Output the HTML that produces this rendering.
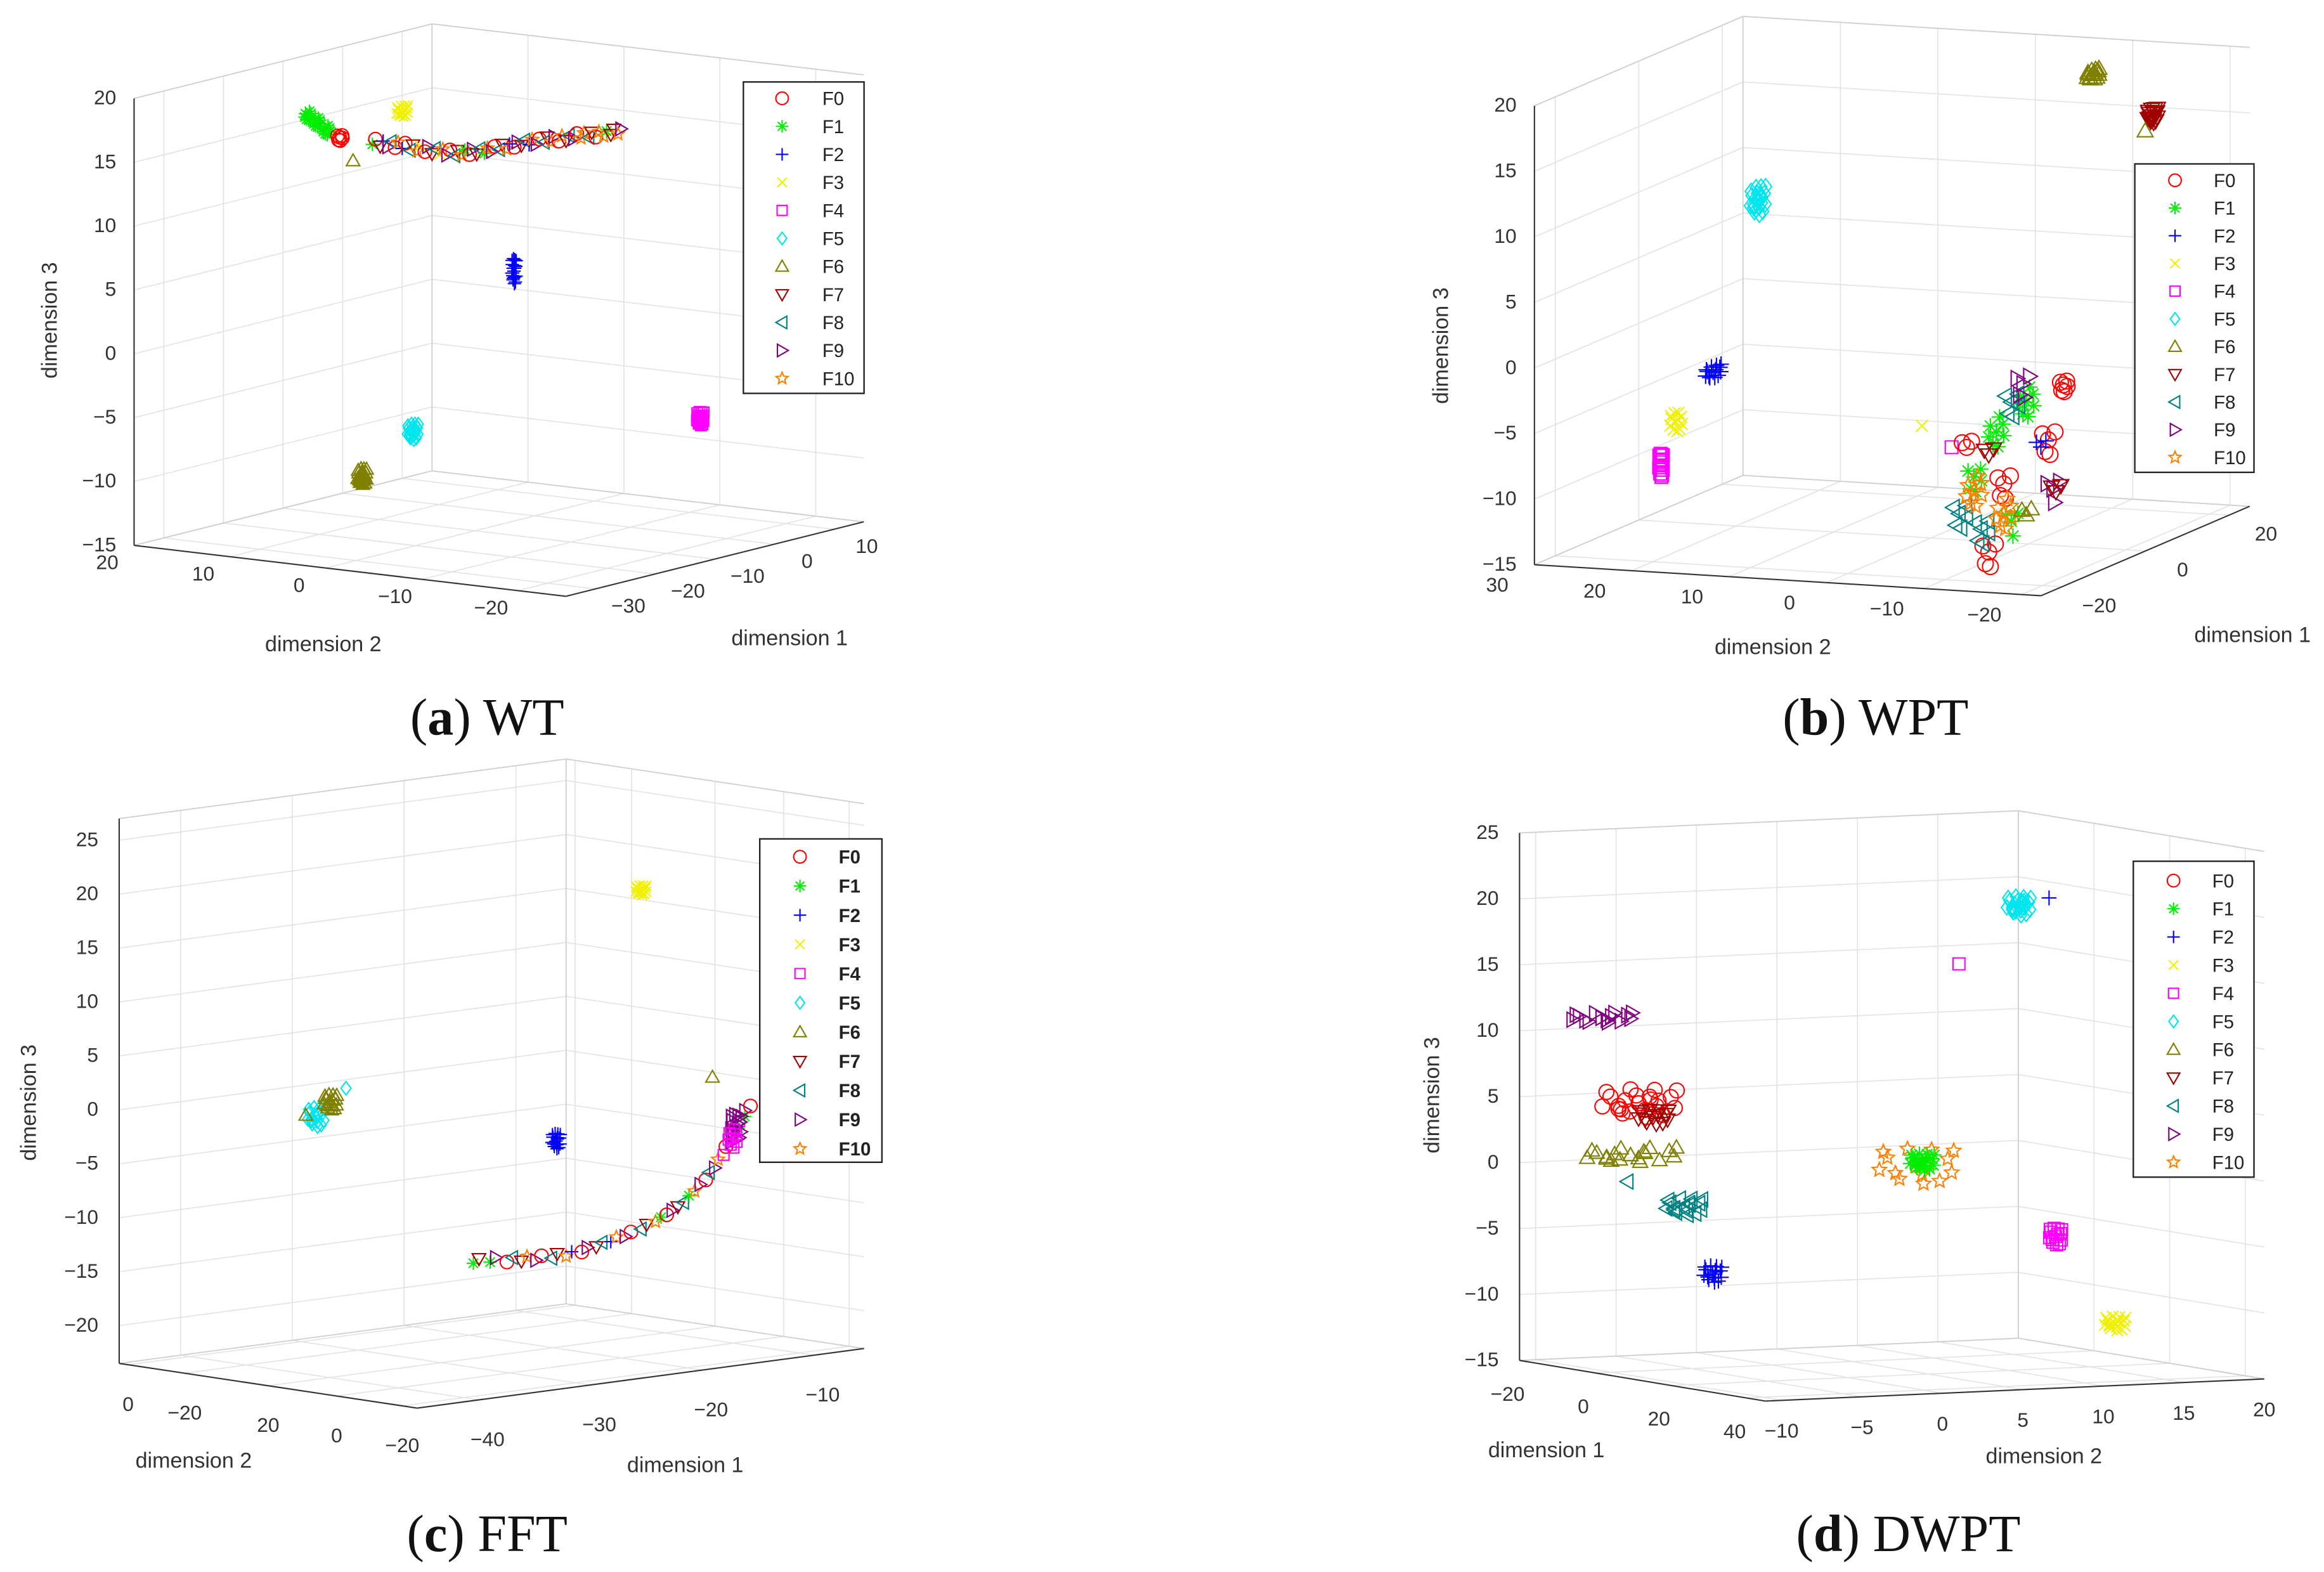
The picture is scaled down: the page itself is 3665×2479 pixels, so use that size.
<!DOCTYPE html>
<html><head><meta charset="utf-8">
<style>
html,body{margin:0;padding:0;background:#fff;}
svg{display:block;}
.sans{font-family:"Liberation Sans",sans-serif;}
.cap{font-family:"Liberation Serif",serif;}
</style></head>
<body>
<svg id="fig" xmlns="http://www.w3.org/2000/svg" width="3665" height="2479" viewBox="0 0 1560 1055" preserveAspectRatio="none" class="sans">
<rect x="0" y="0" width="1560" height="1055" fill="#fff"/>
<g><text class="cap" x="327" y="493" text-anchor="middle" font-size="35" fill="#111">(<tspan font-weight="bold">a</tspan>) WT</text></g>
<g><text class="cap" x="1259" y="493" text-anchor="middle" font-size="35" fill="#111">(<tspan font-weight="bold">b</tspan>) WPT</text></g>
<g><text class="cap" x="327" y="1041" text-anchor="middle" font-size="35" fill="#111">(<tspan font-weight="bold">c</tspan>) FFT</text></g>
<g><text class="cap" x="1281" y="1041" text-anchor="middle" font-size="35" fill="#111">(<tspan font-weight="bold">d</tspan>) DWPT</text></g>
</svg>
<script>
// ---- data (classes) ----
const classNames = ['F0','F1','F2','F3','F4','F5','F6','F7','F8','F9','F10'];
const classColors = ['#ff0000','#00ee00','#0000ff','#f0f000','#ff00ff','#00e5ee','#808000','#a00000','#008080','#800080','#ff8000'];
const classShapes = ['o','*','+','x','s','d','^','v','<','>','p'];
// spread pattern for clusters (unit offsets)
const spreadPattern = [[0,0],[0.8,0.3],[-0.7,0.5],[0.2,-0.9],[-0.4,-0.6],[0.9,-0.4],[-0.9,-0.1],[0.4,0.8],[-0.2,0.9],[0.6,-0.8],[-0.8,0.8],[0.3,0.2],[-0.5,-0.3],[0.95,0.7]];

// ---- panel (a) WT ----
// blobs: [class, d1, d2, d3, spread1, spread2, spread3, count]
const aBlobs = [
[1,-21.9,10,18.0,0.6,0,0.4,8],[1,-20.4,10,17.3,0.6,0,0.4,8],[1,-18.8,10,16.5,0.6,0,0.4,8],
[0,-16.6,10,15.7,0.5,0,0.3,6],[3,-6.1,10,16.5,1,0,0.5,16],[6,-14.35,10,13.6,0,0,0,1],
[2,12.65,10,1.8,0.4,0,1.1,20],[5,-4.35,10,-8.8,1.0,0,0.7,24],[6,-12.85,10,-11.3,0.8,0,0.7,24],[4,43.9,10,-13.4,0.6,0,0.6,20]];
const aBandD1 = [-11.1,-9.8,-8.5,-7.3,-6.1,-4.8,-3.6,-2.3,-1.1,0.2,1.4,2.7,3.9,5.2,6.4,7.7,8.9,10.2,11.4,12.7,13.9,15.2,16.4,17.7,18.9,20.2,21.4,22.7,23.9,25.2,26.4,27.7,28.9,30.1];
const aBandD3 = [14.5,14.2,14.0,13.8,13.6,13.3,13.1,12.9,12.6,12.4,12.2,12.0,11.9,11.8,11.7,11.6,11.6,11.6,11.5,11.5,11.5,11.4,11.3,11.3,11.2,11.1,11.0,11.0,10.9,10.8,10.7,10.6,10.6,10.5];
const aBandCls = [1,7,9,0,2,8,10,0,7,3,9,8,10,0,7,1,9,8,10,0,7,2,9,8,10,0,7,9,10,8,0,10,7,10];

// ---- panel (b) WPT ----
const bBlobs = [
[6,3.8,-15,20.5,1.5,0,0.4,14],[7,18.1,-15,15.4,1.2,0,0.6,18],[6,16.3,-15,14.5,0,0,0,1],
[5,-6.5,15,10.9,2.0,0,1.2,24],[2,-17.2,15,-0.7,2,0,0.5,14],[3,-26.1,15,-3.3,1.5,0,0.8,12],[4,-29.7,15,-6.1,0.5,0,1,14],
[3,-37.2,-15,-0.7,0,0,0,1],[4,-30.1,-15,-3.3,0,0,0,1],
[0,-3.3,-15,-2.2,1.0,0,0.6,6],[0,-6.9,-15,-5.9,2,0,1.3,5],[0,-17.6,-15,-7.8,2,0,1.3,5],[0,-21.2,-15,-12.5,2,0,1.3,5],[0,-26.5,-15,-3.8,1.5,0,1,3],
[1,-12.2,-15,-2.3,2,0,1.3,8],[1,-19.4,-15,-3.6,2,0,1.3,8],[1,-24.75,-15,-6.3,2,0,1.3,6],[1,-15.8,-15,-10.9,2,0,1.3,4],
[8,-15.8,-15,-1.8,2,0,1.3,6],[8,-28.3,-15,-8.6,2,0,1.3,6],[8,-23,-15,-10.5,2,0,1.3,6],
[9,-13,-15,-0.8,2,0,1.2,5],[9,-5.8,-15,-9.8,2,0,1.2,4],[10,-24.75,-15,-7.4,2,0,1.3,8],[10,-17.6,-15,-10.1,2,0,1.3,8],
[7,-5.1,-15,-10.1,1.5,0,1,3],[7,-21.2,-15,-5.1,1.5,0,1,3],[6,-12.2,-15,-10.9,1.5,0,1,3],[2,-8.7,-15,-6.2,1.5,0,1,3]];

// ---- panel (c) FFT ----
const cBlobs = [
[5,-43.9,0,1.6,0.8,0,1.0,18],[6,-42.6,0,2.8,0.6,0,0.8,16],[5,-41.2,0,3.9,0,0,0,1],[6,-44.8,0,1.9,0,0,0,1],
[3,-14.8,0,18.6,0.5,0,0.5,16],[2,-22.4,0,-3.6,0.4,0,0.8,18],[6,-8.4,0,0.4,0,0,0,1],[9,-6.3,0,-4.5,0.5,0,1.3,14],[4,-6.6,0,-5.5,0.4,0,1.0,8]];
const cCurveD1 = [-29.8,-28.3,-26.8,-25.5,-24.2,-22.8,-21.5,-20.1,-18.8,-17.5,-16.2,-14.8,-13.5,-12.5,-11.5,-10.5,-9.5,-8.7,-7.9,-7.2,-6.6,-6.0,-5.5];
const cCurveD3 = [-13.9,-14.0,-14.2,-14.3,-14.4,-14.4,-14.4,-14.2,-13.9,-13.6,-13.3,-12.8,-12.3,-11.8,-11.2,-10.3,-9.4,-8.4,-7.3,-6.2,-5.0,-4.0,-3.1];
const cCurveCls = [1,1,0,7,9,8,10,0,7,2,9,8,10,0,7,1,9,8,10,0,9,4,9];
const cD2TickLabels = ['0','\u221220','20','0','\u221220'];
const cD2TickVals = [28.5,19,5,-6.5,-17.5];

// ---- panel (d) DWPT ----
const dBlobs = [
[9,-20,-5.9,10.7,0,2.0,0.4,16],[0,-20,-3.6,4.1,0,2.5,1.2,24],[7,-20,-2.7,3.0,0,1.0,0.6,14],[6,-20,-4.1,0.2,0,3.0,0.6,20],
[8,-20,-0.8,-3.9,0,1.2,0.7,18],[8,-20,-4.3,-1.8,0,0,0,1],[2,-20,1.0,-9.1,0,0.6,0.7,18],
[5,40,5.9,21.4,0,0.8,0.8,26],[2,40,7.8,21.9,0,0,0,1],[4,40,2.2,17.2,0,0,0,1],
[10,40,-0.5,2.0,0,2.5,1.5,16],[1,40,-0.1,2.3,0,0.8,0.7,20],[4,40,8.2,-3.8,0,0.4,0.7,14],[3,40,11.9,-10.6,0,0.7,0.6,18]];

// ---- panel geometry ----
const panels = [
{id:'a',B:[90,366],o:[-35,20,-15],e1:[4,-1],e2:[-6.44,-0.76],e3:[0,-8.57],r1:[-35,15],r2:[-25,20],r3:[-15,20],
 t1:[-30,-20,-10,0,10],t2:[-20,-10,0,10,20],t3:[-15,-10,-5,0,5,10,15,20],back1:15,back2:20,front1:-35,front2:-25,zc:[-35,20],
 off1:[22,16],off2:[-18,16],off3:[-12,4],title1:[530,433],title2:[217,437],title3:[38,215],
 leg:{x:499,y:55,w:81,h:209,y0:66,dy:18.8,mx:525,tx:552},blobs:aBlobs,lineD1:aBandD1,lineD3:aBandD3,lineCls:aBandCls,lineD2:10,mr:4.5},
{id:'b',B:[1030,379],o:[-25,30,-15],e1:[2.8,-1.2],e2:[-6.54,-0.4],e3:[0,-8.8],r1:[-25,25],r2:[-22,30],r3:[-15,20],
 t1:[-20,0,20],t2:[-20,-10,0,10,20,30],t3:[-15,-10,-5,0,5,10,15,20],back1:25,back2:30,front1:-25,front2:-22,zc:[-25,30],
 off1:[25,17],off2:[-25,18],off3:[-12,4],title1:[1512,431],title2:[1190,439],title3:[972,232],
 leg:{x:1433,y:110,w:80,h:207,y0:121,dy:18.6,mx:1460,tx:1486},blobs:bBlobs,mr:5.3},
{id:'c',B:[80,915],o:[-45.5,30,-23.5],e1:[7.5,-1],e2:[-4,-0.6],e3:[0,-7.24],r1:[-45.5,-5.5],r2:[-20,30],r3:[-23.5,27],
 t1:[-40,-30,-20,-10],t2:cD2TickVals,t2Labels:cD2TickLabels,t3:[-20,-15,-10,-5,0,5,10,15,20,25],back1:-5.5,back2:30,front1:-45.5,front2:-20,zc:[-45.5,30],
 off1:[6,31],off2:[0,31],off3:[-14,4],title1:[460,988],title2:[130,985],title3:[24,740],
 leg:{x:510,y:563,w:82,h:217,y0:575,dy:19.6,mx:537,tx:563,bold:true},blobs:cBlobs,lineD1:cCurveD1,lineD3:cCurveD3,lineCls:cCurveCls,lineD2:0,mr:4.5},
{id:'d',B:[1020,913],o:[-20,-11,-15],e1:[2.54,0.42],e2:[10.8,-0.48],e3:[0,-8.85],r1:[-20,45],r2:[-11,20],r3:[-15,25],
 t1:[-20,0,20,40],t2:[-10,-5,0,5,10,15,20],t3:[-15,-10,-5,0,5,10,15,20,25],back1:-20,back2:20,front1:45,front2:-11,zc:[-20,-11],
 off1:[-8,27],off2:[0,25],off3:[-14,4],title1:[1038,978],title2:[1372,982],title3:[966,735],
 leg:{x:1432,y:578,w:81,h:212,y0:591,dy:18.9,mx:1459,tx:1485},blobs:dBlobs,mr:5}
];

const NS='http://www.w3.org/2000/svg';
const svg=document.getElementById('fig');
function el(tag,attrs,parent){const e=document.createElementNS(NS,tag);for(const k in attrs)e.setAttribute(k,attrs[k]);parent.appendChild(e);return e;}
function fmt(v){return v<0?'\u2212'+Math.abs(v):String(v);}
function proj(p,d1,d2,d3){
  return [p.B[0]+(d1-p.o[0])*p.e1[0]+(d2-p.o[1])*p.e2[0]+(d3-p.o[2])*p.e3[0],
          p.B[1]+(d1-p.o[0])*p.e1[1]+(d2-p.o[1])*p.e2[1]+(d3-p.o[2])*p.e3[1]];
}
function seg(g,p,a,b,stroke,w,name){
  const A=proj(p,a[0],a[1],a[2]),Bp=proj(p,b[0],b[1],b[2]);
  const l=el('line',{x1:A[0],y1:A[1],x2:Bp[0],y2:Bp[1],stroke:stroke,'stroke-width':w},g);
  
  
  return l;
}
function marker(g,cls,x,y,r,name){
  const c=classColors[cls],s=classShapes[cls];
  const m=el('g',{fill:'none',stroke:c,'stroke-width':0.9},g);
  
  
  const L=(x1,y1,x2,y2)=>el('line',{x1:x+x1,y1:y+y1,x2:x+x2,y2:y+y2},m);
  const P=(pts)=>el('polygon',{points:pts.map(q=>(x+q[0])+','+(y+q[1])).join(' ')},m);
  if(s==='o')el('circle',{cx:x,cy:y,r:r},m);
  else if(s==='*'){L(-r,0,r,0);L(0,-r,0,r);L(-r*.7,-r*.7,r*.7,r*.7);L(-r*.7,r*.7,r*.7,-r*.7);}
  else if(s==='+'){L(-r,0,r,0);L(0,-r,0,r);}
  else if(s==='x'){L(-r*.75,-r*.75,r*.75,r*.75);L(-r*.75,r*.75,r*.75,-r*.75);}
  else if(s==='s')el('rect',{x:x-r*.8,y:y-r*.8,width:r*1.6,height:r*1.6},m);
  else if(s==='d')P([[0,-r],[r*.75,0],[0,r],[-r*.75,0]]);
  else if(s==='^')P([[0,-r],[r,r*.75],[-r,r*.75]]);
  else if(s==='v')P([[0,r],[r,-r*.75],[-r,-r*.75]]);
  else if(s==='<')P([[-r,0],[r*.75,-r],[r*.75,r]]);
  else if(s==='>')P([[r,0],[-r*.75,-r],[-r*.75,r]]);
  else if(s==='p'){const pts=[];for(let i=0;i<10;i++){const a=-Math.PI/2+i*Math.PI/5,rr=i%2?r*.45:r;pts.push([rr*Math.cos(a),rr*Math.sin(a)]);}P(pts);}
}

panels.forEach(p=>{
  const g=el('g',{},svg);
  
  
  const grid=el('g',{},g);
  
  
  const GC='#e3e3e3',EC='#d0d0d0';
  const z0=p.r3[0],z1=p.r3[1];
  p.t1.forEach(t=>seg(grid,p,[t,p.r2[0],z0],[t,p.r2[1],z0],GC,0.7,'floor-grid-d1'));
  p.t2.forEach(t=>seg(grid,p,[p.r1[0],t,z0],[p.r1[1],t,z0],GC,0.7,'floor-grid-d2'));
  p.t2.forEach(t=>seg(grid,p,[p.back1,t,z0],[p.back1,t,z1],GC,0.7,'wall-grid-vertical'));
  p.t3.forEach(t=>seg(grid,p,[p.back1,p.r2[0],t],[p.back1,p.r2[1],t],GC,0.7,'wall-grid-horizontal'));
  p.t1.forEach(t=>seg(grid,p,[t,p.back2,z0],[t,p.back2,z1],GC,0.7,'wall-grid-vertical'));
  p.t3.forEach(t=>seg(grid,p,[p.r1[0],p.back2,t],[p.r1[1],p.back2,t],GC,0.7,'wall-grid-horizontal'));
  seg(grid,p,[p.back1,p.r2[0],z1],[p.back1,p.r2[1],z1],EC,0.8,'box-edge');
  seg(grid,p,[p.r1[0],p.back2,z1],[p.r1[1],p.back2,z1],EC,0.8,'box-edge');
  seg(grid,p,[p.back1,p.back2,z0],[p.back1,p.back2,z1],EC,0.8,'box-edge');
  seg(grid,p,[p.back1,p.r2[0],z0],[p.back1,p.r2[1],z0],EC,0.8,'box-edge');
  seg(grid,p,[p.r1[0],p.back2,z0],[p.r1[1],p.back2,z0],EC,0.8,'box-edge');
  const ax=el('g',{},g);
  
  
  const AC='#333';
  seg(ax,p,[p.r1[0],p.front2,z0],[p.r1[1],p.front2,z0],AC,0.9,'dimension-1-axis');
  seg(ax,p,[p.front1,p.r2[0],z0],[p.front1,p.r2[1],z0],AC,0.9,'dimension-2-axis');
  seg(ax,p,[p.zc[0],p.zc[1],z0],[p.zc[0],p.zc[1],z1],AC,0.9,'dimension-3-axis');
  const tk=el('g',{'font-size':13.5,fill:'#333'},g);
  
  
  p.t1.forEach(t=>{const q=proj(p,t,p.front2,z0);const s=el('text',{x:q[0]+p.off1[0],y:q[1]+p.off1[1],'text-anchor':'middle'},tk);s.textContent=fmt(t);
    });
  p.t2.forEach((t,i)=>{const q=proj(p,p.front1,t,z0);const s=el('text',{x:q[0]+p.off2[0],y:q[1]+p.off2[1],'text-anchor':'middle'},tk);s.textContent=p.t2Labels?p.t2Labels[i]:fmt(t);
    });
  p.t3.forEach(t=>{const q=proj(p,p.zc[0],p.zc[1],t);const s=el('text',{x:q[0]+p.off3[0],y:q[1]+p.off3[1],'text-anchor':'end'},tk);s.textContent=fmt(t);
    });
  const t1=el('text',{x:p.title1[0],y:p.title1[1],'text-anchor':'middle','font-size':14.5,fill:'#333'},g);t1.textContent='dimension 1';
  
  const t2=el('text',{x:p.title2[0],y:p.title2[1],'text-anchor':'middle','font-size':14.5,fill:'#333'},g);t2.textContent='dimension 2';
  
  const t3=el('text',{x:p.title3[0],y:p.title3[1],'text-anchor':'middle','font-size':14.5,fill:'#333',transform:'rotate(-90 '+p.title3[0]+' '+p.title3[1]+')'},g);t3.textContent='dimension 3';
  
  const dg=el('g',{},g);
  
  
  const r=p.mr;
  if(p.lineD1){p.lineD1.forEach((v,i)=>{const q=proj(p,v,p.lineD2,p.lineD3[i]);marker(dg,p.lineCls[i],q[0],q[1],r,'point-'+classNames[p.lineCls[i]].toLowerCase());
    const c2=p.lineCls[(i+3)%p.lineCls.length];
    const q2=proj(p,v+0.5,p.lineD2,p.lineD3[i]+0.35);marker(dg,c2,q2[0],q2[1],r,'point-'+classNames[c2].toLowerCase());});}
  p.blobs.forEach(b=>{for(let k=0;k<b[7];k++){const j0=spreadPattern[k%spreadPattern.length];
    const ring=Math.floor(k/spreadPattern.length);const sc=ring?0.55:1;const j=ring?[j0[1],-j0[0]]:j0;
    const q=proj(p,b[1]+b[4]*j[0]*sc,b[2]+b[5]*j[0]*sc,b[3]+b[6]*j[1]*sc);marker(dg,b[0],q[0],q[1],r,'point-'+classNames[b[0]].toLowerCase());}});
  const L=p.leg;
  const lg=el('g',{},g);
  
  
  el('rect',{x:L.x,y:L.y,width:L.w,height:L.h,fill:'#fff',stroke:'#222','stroke-width':1},lg);
  classNames.forEach((n,i)=>{const y=L.y0+i*L.dy;
    const eg=el('g',{},lg);
    
    
    marker(eg,i,L.mx,y,4.2,'legend-marker-'+n.toLowerCase());
    const t=el('text',{x:L.tx,y:y+4.5,'font-size':12.5,fill:'#222','font-weight':L.bold?'bold':'normal'},eg);t.textContent=n;});
});
</script>
</body></html>
